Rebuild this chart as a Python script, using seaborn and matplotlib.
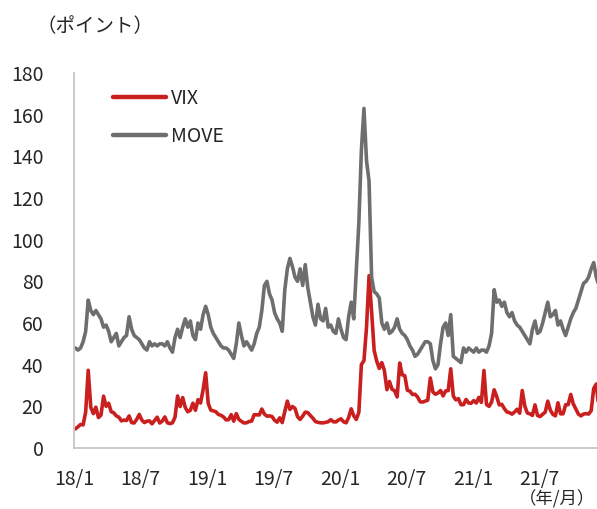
import pandas as pd
import matplotlib
matplotlib.use('Agg')
import matplotlib.pyplot as plt
import seaborn as sns

sns.set_style('white')
plt.rcParams['font.family'] = ['Noto Sans CJK JP', 'DejaVu Sans']

# weekly readings (Fridays), 2018/1/5 - 2021/12/10
vix_2018 = [9.2, 10.2, 11.3, 11.1, 17.3, 37.3, 19.5, 16.5, 19.6, 14.6, 15.8, 24.9, 20.0,
            21.5, 17.4, 16.9, 15.4, 14.8, 13.0, 13.4, 13.2, 15.4, 12.2, 12.0, 13.8, 16.1,
            13.4, 12.2, 12.9, 13.0, 11.6, 13.2, 14.8, 12.0, 12.9, 14.9, 12.1, 11.7, 12.1,
            14.8, 24.98, 19.9, 24.2, 19.5, 17.4, 18.1, 21.5, 18.1, 23.2, 21.6, 28.0, 36.1]
vix_2019 = [21.4, 18.2, 17.8, 17.4, 16.1, 15.7, 14.9, 13.5, 13.6, 16.0, 12.9, 16.5, 13.7,
            12.8, 12.0, 12.1, 12.7, 12.9, 16.0, 15.96, 15.85, 18.7, 16.3, 15.3, 15.4, 15.1,
            13.3, 12.4, 14.5, 12.2, 17.6, 22.5, 18.5, 19.9, 19.0, 15.0, 13.7, 15.3, 17.2,
            17.0, 15.6, 14.3, 12.7, 12.3, 12.1, 12.05, 12.3, 12.6, 13.6, 12.6, 12.5, 13.4]
vix_2020 = [14.0, 12.6, 12.1, 14.6, 18.8, 15.5, 13.7, 17.1, 40.1, 41.9, 57.8, 82.7, 65.5,
            46.8, 41.7, 38.2, 41.0, 37.2, 27.98, 31.9, 28.2, 27.5, 24.5, 40.8, 35.1, 34.7,
            27.7, 27.3, 25.7, 25.8, 24.5, 22.2, 22.05, 22.5, 22.96, 33.6, 26.9, 25.8, 26.4,
            27.6, 25.0, 27.4, 27.55, 38.0, 24.9, 23.1, 23.7, 20.8, 20.8, 23.3, 21.6, 21.5]
vix_2021 = [22.75, 21.6, 24.3, 21.9, 37.2, 20.9, 19.97, 22.05, 27.95, 24.7, 20.7, 20.95,
            18.9, 17.3, 16.95, 16.25, 17.3, 18.6, 16.7, 27.6, 20.15, 16.8, 16.4, 15.65, 20.7,
            15.6, 15.1, 16.2, 17.2, 22.5, 18.2, 16.15, 15.45, 21.7, 16.4, 16.4, 20.8, 20.8,
            25.7, 21.15, 18.77, 16.3, 15.4, 16.3, 16.5, 16.3, 17.9, 28.6, 30.7, 18.7]

move_2018 = [48, 47, 48, 51, 56, 71, 66, 64, 66, 64, 62, 58, 59, 56, 51, 53, 55, 49, 51, 53,
             54, 63, 57, 54, 53, 52, 50, 48, 47, 51, 49, 50, 49, 50, 50, 49, 51, 48, 46, 53,
             57, 53, 58, 62, 58, 61, 54, 52, 60, 57, 64, 68]
move_2019 = [64, 58, 55, 53, 51, 49, 48, 48, 47, 45, 43, 50, 60, 54, 49, 51, 49, 47, 50, 55,
             58, 66, 78, 80, 74, 71, 65, 62, 60, 56, 76, 86, 91, 87, 82, 80, 86, 78, 88, 77,
             70, 63, 59, 69, 62, 61, 67, 58, 59, 56, 55, 62]
move_2020 = [57, 53, 52, 63, 70, 62, 85, 108, 143, 163, 138, 128, 82, 75, 74, 72, 60, 57, 60,
             55, 56, 58, 62, 57, 55, 54, 52, 49, 47, 44, 45, 47, 49, 51, 51, 50, 42, 38, 40,
             50, 58, 60, 54, 64, 44, 43, 42, 41, 48, 46, 48, 47]
move_2021 = [46, 48, 46, 47, 47, 46, 49, 55, 76, 70, 71, 68, 70, 65, 63, 65, 61, 59, 58, 56,
             54, 52, 50, 57, 61, 55, 56, 60, 65, 70, 63, 64, 66, 59, 61, 57, 54, 58, 62, 65,
             67, 71, 75, 79, 80, 82, 86, 89, 82, 78]

tick_dates = ['2018-01-01', '2018-07-01', '2019-01-01', '2019-07-01',
              '2020-01-01', '2020-07-01', '2021-01-01', '2021-07-01']
tick_labels = ['18/1', '18/7', '19/1', '19/7', '20/1', '20/7', '21/1', '21/7']

vix = vix_2018 + vix_2019 + vix_2020 + vix_2021
move = move_2018 + move_2019 + move_2020 + move_2021
dates = pd.date_range('2018-01-05', periods=len(vix), freq='W-FRI')

df = pd.DataFrame({'date': dates, 'VIX': vix, 'MOVE': move})
df = df.melt(id_vars='date', var_name='series', value_name='value')

red = '#c9201f'
gray = '#6e6e6e'
axis_col = '#c6c6c6'
text_col = '#262626'

fig = plt.figure(figsize=(5.97, 5.09), dpi=100)
ax = fig.add_axes([74 / 597, 61 / 509, 523 / 597, 375 / 509])

sns.lineplot(data=df, x='date', y='value', hue='series',
             palette={'VIX': red, 'MOVE': gray}, linewidth=2.6, ax=ax)

ax.set_xlim(pd.Timestamp('2018-01-01'), pd.Timestamp('2021-12-05'))
ax.set_ylim(0, 180)
ax.set_yticks(range(0, 181, 20))
ax.set_xticks(pd.to_datetime(tick_dates))
ax.set_xticklabels(tick_labels)
ax.set_xlabel('')
ax.set_ylabel('')

for s in ['top', 'right']:
    ax.spines[s].set_visible(False)
for s in ['left', 'bottom']:
    ax.spines[s].set_color(axis_col)
    ax.spines[s].set_linewidth(1.3)

ax.tick_params(axis='y', length=5, width=1.2, color=axis_col, pad=17,
               labelsize=14, labelcolor=text_col)
ax.tick_params(axis='x', length=7, width=1.2, color=axis_col, pad=8,
               labelsize=14, labelcolor=text_col)

sns.move_legend(ax, 'upper left', bbox_to_anchor=(0.075, 0.96), frameon=False,
                title=None, fontsize=14, handlelength=2.7, handletextpad=0.25,
                labelspacing=0.88, borderaxespad=0, borderpad=0)
for line in ax.get_legend().get_lines():
    line.set_linewidth(3.2)
for t in ax.get_legend().get_texts():
    t.set_color(text_col)

fig.text(36 / 597, 1 - 27 / 509, '（ポイント）', ha='left', va='center',
         fontsize=14, color=text_col)
fig.text(595 / 597, 0.0, '（年/月）', ha='right', va='bottom',
         fontsize=12.5, color=text_col)

fig.savefig('out.png', dpi=100)
